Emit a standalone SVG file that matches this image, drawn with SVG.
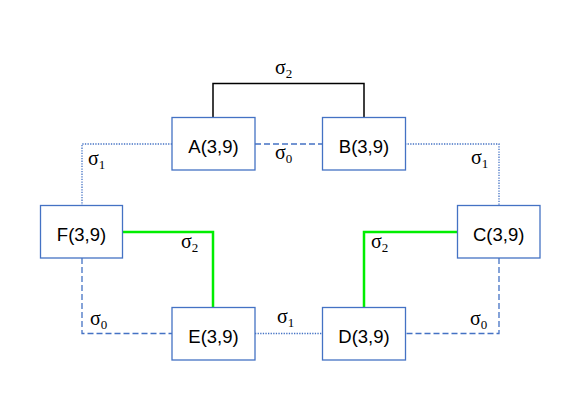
<svg xmlns="http://www.w3.org/2000/svg" width="581" height="411" viewBox="0 0 581 411">
<style>
.box{fill:#fff;stroke:#4472C4;stroke-width:1.3}
.lbl{font-family:"Liberation Sans","Open Sans",sans-serif;font-size:18.5px;fill:#000;text-anchor:middle}
.sig{font-family:"Liberation Serif","Times New Roman",serif;font-size:20px;fill:#000}
.sub{font-size:13px}
.dot{fill:none;stroke:#4472C4;stroke-width:1.3;stroke-dasharray:1.3 1.3}
.dash{fill:none;stroke:#4472C4;stroke-width:1.3;stroke-dasharray:6 3}
.grn{fill:none;stroke:#00EE00;stroke-width:2.5}
.blk{fill:none;stroke:#000;stroke-width:1.5}
</style>
<rect width="581" height="411" fill="#fff"/>
<g id="connectors">
<path class="blk" d="M213 117 V83.5 H364 V117"/>
<path class="dash" d="M255 144 H322"/>
<path class="dot" d="M172 144 H82 V206"/>
<path class="dot" d="M405 144 H499 V206"/>
<path class="grn" d="M122 232 H213 V307"/>
<path class="grn" d="M458 232 H364 V307"/>
<path class="dash" d="M82 258 V333.5 H172"/>
<path class="dash" d="M499 258 V333.5 H405"/>
<path class="dot" d="M255 333.5 H322"/>
</g>
<g id="labels">
<text class="sig" x="275" y="74">σ<tspan class="sub" dy="3.5">2</tspan></text>
<text class="sig" x="275" y="159">σ<tspan class="sub" dy="3.5">0</tspan></text>
<text class="sig" x="88" y="165">σ<tspan class="sub" dy="3.5">1</tspan></text>
<text class="sig" x="471" y="164">σ<tspan class="sub" dy="3.5">1</tspan></text>
<text class="sig" x="181" y="248">σ<tspan class="sub" dy="3.5">2</tspan></text>
<text class="sig" x="371" y="248">σ<tspan class="sub" dy="3.5">2</tspan></text>
<text class="sig" x="90" y="325">σ<tspan class="sub" dy="3.5">0</tspan></text>
<text class="sig" x="470" y="325">σ<tspan class="sub" dy="3.5">0</tspan></text>
<text class="sig" x="277" y="323">σ<tspan class="sub" dy="3.5">1</tspan></text>
</g>
<g id="A"><rect class="box" x="172" y="117.5" width="83" height="52.5"/><text class="lbl" x="213.5" y="152.5">A(3,9)</text></g>
<g id="B"><rect class="box" x="322.5" y="117.5" width="83" height="52.5"/><text class="lbl" x="364" y="152.5">B(3,9)</text></g>
<g id="C"><rect class="box" x="457.5" y="205.5" width="82.5" height="52.5"/><text class="lbl" x="498.7" y="240.5">C(3,9)</text></g>
<g id="D"><rect class="box" x="322.5" y="307.5" width="83" height="52.5"/><text class="lbl" x="364" y="342.5">D(3,9)</text></g>
<g id="E"><rect class="box" x="172" y="307.5" width="83" height="52.5"/><text class="lbl" x="213.5" y="342.5">E(3,9)</text></g>
<g id="F"><rect class="box" x="40.5" y="205.5" width="82" height="52.5"/><text class="lbl" x="81.5" y="240.5">F(3,9)</text></g>
</svg>
